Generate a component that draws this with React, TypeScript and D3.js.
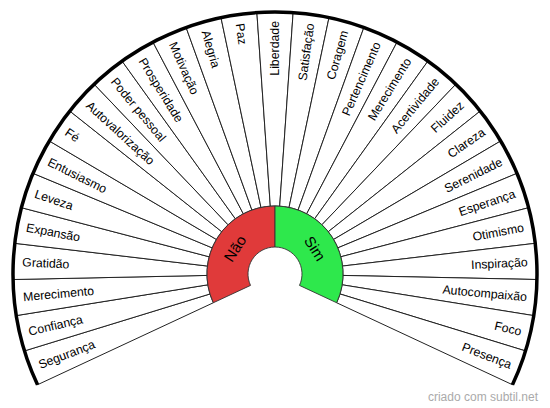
import React, { useRef, useEffect } from "react";
import * as d3 from "d3";

// rótulos das fatias, da esquerda (baixo) para a direita (baixo)
const labels = [
    "Segurança", "Confiança", "Merecimento", "Gratidão", "Expansão", "Leveza",
    "Entusiasmo", "Fé", "Autovalorização", "Poder pessoal", "Prosperidade",
    "Motivação", "Alegria", "Paz", "Liberdade", "Satisfação", "Coragem",
    "Pertencimento", "Merecimento", "Acertividade", "Fluidez", "Clareza",
    "Serenidade", "Esperança", "Otimismo", "Inspiração", "Autocompaixão",
    "Foco", "Presença",
];

const answers = ["Não", "Sim"];
const answerColors = ["#e03a3a", "#2ee84c"];

const App = () => {
    const svgRef = useRef<SVGSVGElement>(null);

    useEffect(() => {
        if (!svgRef.current) return;
        const width = 550;
        const height = 408;
        const cx = 275;
        const cy = 274;
        const rInner = 27;
        const rMid = 68;
        const rOuter = 262;
        const span = (230 * Math.PI) / 180;

        d3.select(svgRef.current).selectAll("*").remove();

        const svg = d3
            .select(svgRef.current)
            .attr("width", width)
            .attr("height", height);

        svg.append("rect").attr("width", width).attr("height", height).attr("fill", "#fff");

        const g = svg.append("g").attr("transform", `translate(${cx},${cy})`);

        const angle = d3
            .scaleBand()
            .domain(labels.map((_, i) => String(i)))
            .range([-span / 2, span / 2]);

        const arc = d3.arc<number>();

        // fatias
        g.selectAll(".slice")
            .data(labels)
            .enter()
            .append("path")
            .attr("class", "slice")
            .attr("d", (_, i) =>
                arc({
                    innerRadius: rMid,
                    outerRadius: rOuter,
                    startAngle: angle(String(i))!,
                    endAngle: angle(String(i))! + angle.bandwidth(),
                } as any)
            )
            .attr("fill", "#fff")
            .attr("stroke", "#222")
            .attr("stroke-width", 1);

        // arco externo grosso
        g.append("path")
            .attr("d", arc({
                innerRadius: rOuter,
                outerRadius: rOuter,
                startAngle: -span / 2,
                endAngle: span / 2,
            } as any))
            .attr("fill", "none")
            .attr("stroke", "#000")
            .attr("stroke-width", 3.5);

        // textos das fatias
        g.selectAll(".label")
            .data(labels)
            .enter()
            .append("text")
            .attr("class", "label")
            .attr("transform", (_, i) => {
                const a = angle(String(i))! + angle.bandwidth() / 2;
                const deg = (a * 180) / Math.PI;
                const r = rOuter - 9;
                const x = r * Math.sin(a);
                const y = -r * Math.cos(a);
                const rot = a >= -1e-6 ? deg - 90 : deg + 90;
                return `translate(${x},${y}) rotate(${rot})`;
            })
            .attr("text-anchor", (_, i) => (angle(String(i))! + angle.bandwidth() / 2 >= -1e-6 ? "end" : "start"))
            .attr("dy", "0.36em")
            .style("font-family", "'Liberation Sans', Arial, sans-serif")
            .style("font-size", "12.3px")
            .style("fill", "#000")
            .text((d) => d);

        // anel central Não / Sim
        const half = d3
            .scaleBand()
            .domain(answers)
            .range([-span / 2, span / 2]);

        g.selectAll(".answer")
            .data(answers)
            .enter()
            .append("path")
            .attr("class", "answer")
            .attr("d", (d) =>
                arc({
                    innerRadius: rInner,
                    outerRadius: rMid,
                    startAngle: half(d)!,
                    endAngle: half(d)! + half.bandwidth(),
                } as any)
            )
            .attr("fill", (_, i) => answerColors[i])
            .attr("stroke", "#333")
            .attr("stroke-width", 0.9);

        g.selectAll(".answer-text")
            .data(answers)
            .enter()
            .append("text")
            .attr("class", "answer-text")
            .attr("transform", (d) => {
                const a = half(d)! + half.bandwidth() / 2;
                const r = (rInner + rMid) / 2;
                return `translate(${r * Math.sin(a)},${-r * Math.cos(a)}) rotate(${(a * 180) / Math.PI})`;
            })
            .attr("text-anchor", "middle")
            .attr("dy", "0.36em")
            .style("font-family", "'Liberation Sans', Arial, sans-serif")
            .style("font-size", "15px")
            .style("fill", "#000")
            .text((d) => d);

        // marca d'água
        svg.append("text")
            .attr("x", 538)
            .attr("y", 401)
            .attr("text-anchor", "end")
            .style("font-family", "'Liberation Sans', Arial, sans-serif")
            .style("font-size", "12px")
            .style("fill", "#aaa")
            .text("criado com subtil.net");
    }, []);

    return <svg ref={svgRef} style={{ position: "absolute", left: 0, top: 0 }} />;
};

export default App;
